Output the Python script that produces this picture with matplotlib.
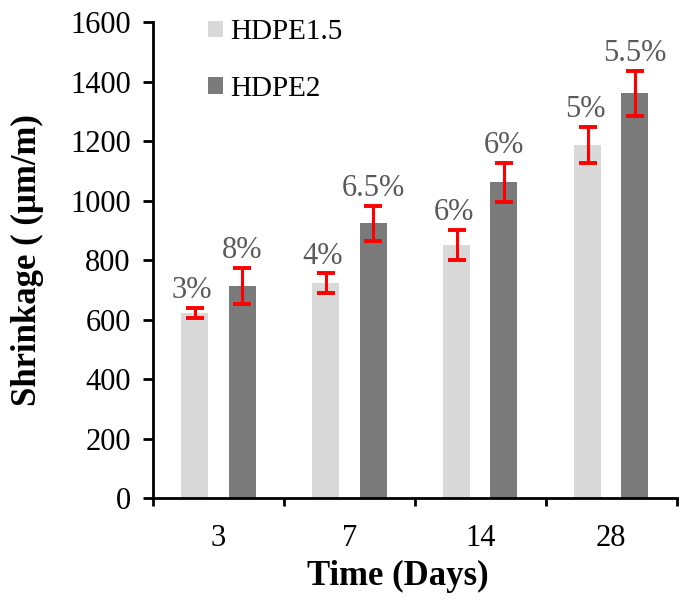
import numpy as np
import matplotlib.pyplot as plt

plt.rcParams['font.family'] = ['Liberation Serif', 'DejaVu Serif']

days = ['3', '7', '14', '28']
hdpe15 = [622, 723, 851, 1187]
hdpe15_err = [17, 32, 51, 60]
hdpe15_pct = ['3%', '4%', '6%', '5%']
hdpe2 = [712, 924, 1062, 1361]
hdpe2_err = [61, 59, 65, 76]
hdpe2_pct = ['8%', '6.5%', '6%', '5.5%']

fig = plt.figure(figsize=(6.83, 6.0), dpi=100)
ax = fig.add_axes([0.224, 0.17, 0.767, 0.793])

x = np.arange(len(days))
w = 0.206
off = 0.18
err_kw = dict(ecolor='#FF0000', elinewidth=2.2, capsize=6.5, capthick=2.8)
ax.bar(x - off, hdpe15, w, color='#D9D9D9', label='HDPE1.5',
       yerr=hdpe15_err, error_kw=err_kw)
ax.bar(x + off, hdpe2, w, color='#7A7A7A', label='HDPE2',
       yerr=hdpe2_err, error_kw=err_kw)

# percentage labels above the error bars
for i in range(len(days)):
    ax.annotate(hdpe15_pct[i], (x[i] - off, hdpe15[i] + hdpe15_err[i]),
                xytext=(-2, 2), textcoords='offset points', ha='center',
                va='bottom', fontsize=22, color='#595959')
    ax.annotate(hdpe2_pct[i], (x[i] + off, hdpe2[i] + hdpe2_err[i]),
                xytext=(0, 2), textcoords='offset points', ha='center',
                va='bottom', fontsize=22, color='#595959')

ax.set_xlim(-0.5, len(days) - 0.5)
ax.set_ylim(0, 1600)
ax.set_yticks(np.arange(0, 1601, 200))
ax.set_xticks(np.arange(-0.5, len(days), 1))
ax.set_xticklabels([])
ax.set_xticks(x, minor=True)
ax.set_xticklabels(days, minor=True)
ax.tick_params(axis='x', which='major', length=6, width=2, direction='out')
ax.tick_params(axis='x', which='minor', length=0, pad=19, labelsize=22)
ax.tick_params(axis='y', length=7, width=2, pad=9, labelsize=22)

for s in ['top', 'right']:
    ax.spines[s].set_visible(False)
for s in ['left', 'bottom']:
    ax.spines[s].set_linewidth(2)

ax.set_xlabel('Time (Days)', fontsize=25, fontweight='bold')
ax.set_ylabel('Shrinkage ( (µm/m)', fontsize=25, fontweight='bold')
ax.xaxis.set_label_coords(0.468, -0.13)
ax.yaxis.set_label_coords(-0.208, 0.5)

ax.legend(loc='upper left', bbox_to_anchor=(0.305, 0.968),
          bbox_transform=fig.transFigure, frameon=False, fontsize=21,
          handlelength=0.5, handleheight=0.5, handletextpad=0.25,
          labelspacing=1.05, borderpad=0, borderaxespad=0)

fig.savefig('out.png', dpi=100)
